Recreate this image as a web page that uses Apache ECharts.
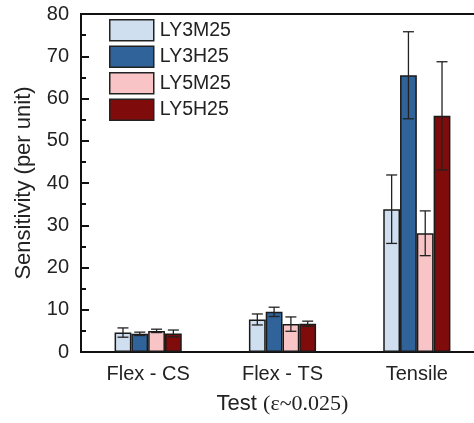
<!DOCTYPE html>
<html><head><meta charset="utf-8">
<script src="https://cdn.jsdelivr.net/npm/echarts@6/dist/echarts.min.js"></script>
<style>html,body{margin:0;padding:0;background:#fff}#c{width:474px;height:423px}</style>
</head><body><div id="c"></div>
<script>
const categories = ['Flex - CS', 'Flex - TS', 'Tensile'];
const seriesNames = ['LY3M25', 'LY3H25', 'LY5M25', 'LY5H25'];
const LY3M25 = [4.6, 7.7, 33.8];
const LY3H25 = [4.3, 9.5, 65.5];
const LY5M25 = [5.0, 6.6, 28.1];
const LY5H25 = [4.4, 6.7, 55.9];
const LY3M25_err = [1.1, 1.3, 8.1];
const LY3H25_err = [0.4, 1.1, 10.3];
const LY5M25_err = [0.4, 1.7, 5.3];
const LY5H25_err = [0.8, 0.6, 12.8];
const yTicks = [0, 10, 20, 30, 40, 50, 60, 70, 80];

const values = [LY3M25, LY3H25, LY5M25, LY5H25];
const errs = [LY3M25_err, LY3H25_err, LY5M25_err, LY5H25_err];
const colors = ['#cfdff0', '#2f6399', '#f9c4c6', '#800b0b'];
const CAT_GAP = 0.5;

const chart = echarts.init(document.getElementById('c'));
const barSeries = seriesNames.map((n, i) => ({
  name: n, type: 'bar', data: values[i],
  barGap: '0%', barCategoryGap: (CAT_GAP * 100) + '%',
  itemStyle: { color: colors[i], borderColor: '#1a1a1a', borderWidth: 1.5 },
  z: 2
}));
const errSeries = seriesNames.map((n, i) => ({
  type: 'custom', name: n + '_err', z: 5,
  data: categories.map((c, k) => [k, values[i][k] - errs[i][k], values[i][k] + errs[i][k]]),
  renderItem: function (params, api) {
    const k = api.value(0);
    const lo = api.coord([k, api.value(1)]);
    const hi = api.coord([k, api.value(2)]);
    const band = api.size([1, 0])[0];
    const group = band * (1 - CAT_GAP);
    const bw = group / 4;
    const x = lo[0] - group / 2 + bw * (i + 0.5);
    const cap = 5.5;
    const st = { stroke: '#222', lineWidth: 1.3 };
    return { type: 'group', children: [
      { type: 'line', shape: { x1: x, y1: lo[1], x2: x, y2: hi[1] }, style: st },
      { type: 'line', shape: { x1: x - cap, y1: lo[1], x2: x + cap, y2: lo[1] }, style: st },
      { type: 'line', shape: { x1: x - cap, y1: hi[1], x2: x + cap, y2: hi[1] }, style: st }
    ]};
  },
  silent: true
}));

chart.setOption({
  animation: false,
  textStyle: { fontFamily: 'Liberation Sans, Arial, sans-serif' },
  grid: { left: 81, top: 14, width: 403, bottom: 71, outerBoundsMode: 'none', containLabel: false,
    show: true, borderColor: '#111', borderWidth: 2, backgroundColor: 'transparent' },
  legend: {
    data: seriesNames, orient: 'vertical', left: 104, top: 14,
    itemWidth: 44, itemHeight: 21, itemGap: 4, icon: 'rect',
    textStyle: { fontSize: 19.5, color: '#222', fontFamily: 'Liberation Sans, Arial', padding: [0, 0, 0, 1] },
    itemStyle: { borderColor: '#222', borderWidth: 1.5 }
  },
  xAxis: {
    type: 'category', data: categories,
    axisLine: { lineStyle: { color: '#111', width: 2 } },
    axisTick: { show: false },
    axisLabel: { fontSize: 20, color: '#222', margin: 12 },
    name: '{a|Test }{b|(ε~0.025)}', nameLocation: 'middle', nameGap: 41,
    nameTextStyle: { rich: {
      a: { fontSize: 22, color: '#222', fontFamily: 'Liberation Sans, Arial' },
      b: { fontSize: 22, color: '#222', fontFamily: 'Liberation Serif, Times New Roman' } } }
  },
  yAxis: {
    type: 'value', min: 0, max: 80, interval: 10,
    axisLine: { show: true, lineStyle: { color: '#111', width: 2 } },
    axisTick: { show: true, inside: true, length: 8, lineStyle: { color: '#111', width: 2 } },
    minorTick: { show: true, splitNumber: 2, length: 5, lineStyle: { color: '#111', width: 2 } },
    splitLine: { show: false },
    axisLabel: { fontSize: 20, color: '#222', margin: 12,
      formatter: v => yTicks.includes(v) ? String(v) : '' },
    name: 'Sensitivity (per unit)', nameLocation: 'middle', nameGap: 46, nameRotate: 90,
    nameTextStyle: { fontSize: 22, color: '#222' }
  },
  series: barSeries.concat(errSeries)
});
</script></body></html>
